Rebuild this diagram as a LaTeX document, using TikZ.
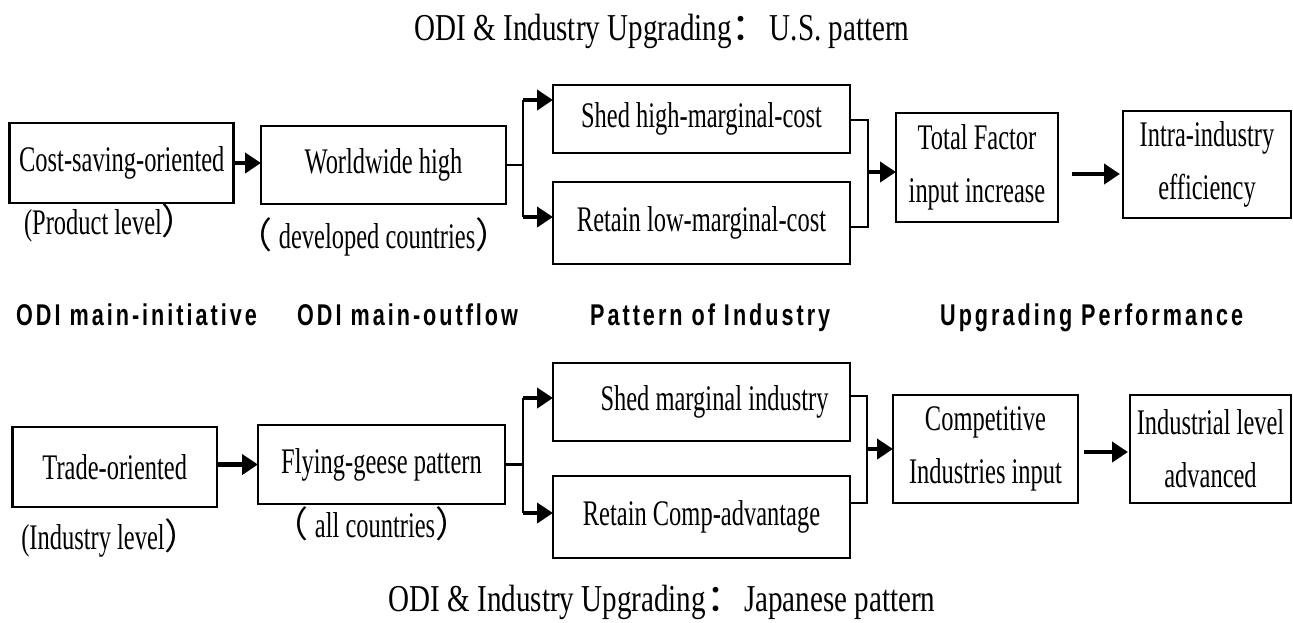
\documentclass[tikz,border=0pt]{standalone}
\usepackage{fontspec}
\usetikzlibrary{arrows.meta}
\setmainfont{Liberation Serif}
\newfontfamily\boxfont[FakeStretch=0.68]{Liberation Serif}
\newfontfamily\titlefont[FakeStretch=0.765]{Liberation Serif}
\newfontfamily\labfont[FakeStretch=0.72,LetterSpace=10]{Liberation Sans}
\newfontfamily\cjk{Noto Sans CJK SC}

\tikzset{
  box/.style={draw, line width=2.7pt, inner sep=0pt, outer sep=0pt, align=center,
    font=\boxfont\fontsize{36}{53}\selectfont},
  conn/.style={line width=2.7pt},
  arr/.style={line width=4.5pt, -{Triangle[length=16pt,width=20pt]}},
  sub/.style={font=\boxfont\fontsize{36}{40}\selectfont, anchor=base, inner sep=0pt},
  ttl/.style={font=\titlefont\fontsize{38}{40}\selectfont, anchor=base, inner sep=0pt},
  lab/.style={font=\labfont\bfseries\fontsize{30}{30}\selectfont, anchor=base west, inner sep=0pt},
}

\begin{document}
\begin{tikzpicture}[x=1pt,y=-1pt]
\useasboundingbox (0,0) rectangle (1293,622);

% titles
\node[ttl] (ttop) at (662,40) {ODI \& Industry Upgrading{\cjk ：}U.S. pattern};
\node[ttl] (tbot) at (662,611) {ODI \& Industry Upgrading{\cjk ：}Japanese pattern};

% U.S. pattern row
\node[box, minimum width=224pt, minimum height=80pt] (A) at (121.8,163) {Cost-saving-oriented};
\node[box, minimum width=245pt, minimum height=78pt] (B) at (383.5,165) {Worldwide high};
\node[box, minimum width=297pt, minimum height=68pt] (C) at (701.5,119) {Shed high-marginal-cost};
\node[box, minimum width=297pt, minimum height=82pt] (D) at (701.5,223) {Retain low-marginal-cost};
\node[box, minimum width=162pt, minimum height=109pt] (E) at (977,167.5) {Total Factor\\input increase};
\node[box, minimum width=168pt, minimum height=107pt] (F) at (1207,164.5) {Intra-industry\\efficiency};

\node[sub] (A2) at (111,234) {(Product level{\cjk ）}};
\node[sub] (B2) at (374,248) {{\cjk （} developed countries{\cjk ）}};

\draw[arr] (A.east) -- (A.east -| B.west);
\coordinate (fu) at (523,165);
\coordinate (fut) at (523,100);
\coordinate (fub) at (523,217);
\draw[conn] (B.east) -- (fu);
\draw[conn] (fut) -- (fub);
\draw[arr] (fut) -- (fut -| C.west);
\draw[arr] (fub) -- (fub -| D.west);
\coordinate (mut) at (868,120);
\coordinate (mub) at (868,227);
\coordinate (mum) at (868,172);
\draw[conn] (mut -| C.east) -- (mut) -- (mub) -- (mub -| D.east);
\draw[arr] (mum) -- (mum -| E.west);
\coordinate (eu) at (1072,174);
\draw[arr, shorten >=3pt] (eu) -- (eu -| F.west);

% row captions
\node[lab] (l1) at (16,325) {ODI main-initiative};
\node[lab] (l2) at (297,325) {ODI main-outflow};
\node[lab] (l3) at (590,325) {Pattern of Industry};
\node[lab] (l4) at (940,325) {Upgrading Performance};

% Japanese pattern row
\node[box, minimum width=204.5pt, minimum height=80pt] (G) at (114.75,467) {Trade-oriented};
\node[box, minimum width=247pt, minimum height=79pt] (H) at (381.5,464.5) {Flying-geese pattern};
\node[box, minimum width=297pt, minimum height=78pt] (I) at (701.5,402) {\hspace*{26pt}Shed marginal industry};
\node[box, minimum width=297pt, minimum height=82pt] (J) at (701.5,517) {Retain Comp-advantage};
\node[box, minimum width=185pt, minimum height=108pt] (K) at (985.5,449) {Competitive\\Industries input};
\node[box, minimum width=161pt, minimum height=108pt] (L) at (1210.5,449) {Industrial level\\advanced};

\node[sub] (G2) at (111,549) {(Industry level{\cjk ）}};
\node[sub] (H2) at (372,537) {{\cjk （} all countries{\cjk ）}};

\draw[arr] (G.east |- H.west) -- (H.west);
\coordinate (fj) at (523,464.5);
\coordinate (fjt) at (523,398);
\coordinate (fjb) at (523,513);
\draw[conn] (H.east) -- (fj);
\draw[conn] (fjt) -- (fjb);
\draw[arr] (fjt) -- (fjt -| I.west);
\draw[arr] (fjb) -- (fjb -| J.west);
\coordinate (mjt) at (867,396);
\coordinate (mjb) at (867,503);
\coordinate (mjm) at (867,449);
\draw[conn] (mjt -| I.east) -- (mjt) -- (mjb) -- (mjb -| J.east);
\draw[arr] (mjm) -- (mjm -| K.west);
\coordinate (kl) at (1084,452);
\draw[arr, shorten >=2pt] (kl) -- (kl -| L.west);
\end{tikzpicture}
\end{document}
